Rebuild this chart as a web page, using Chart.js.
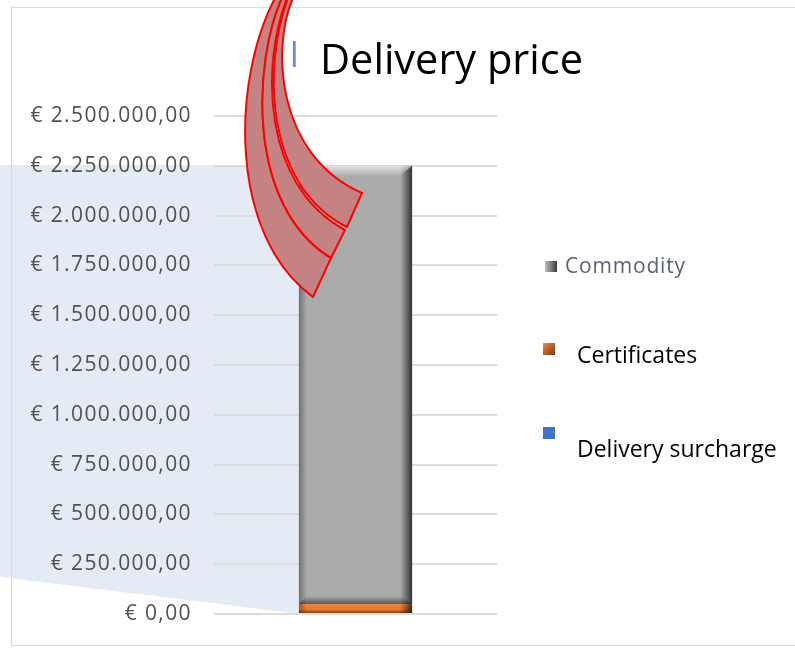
<!DOCTYPE html>
<html><head><meta charset="utf-8">
<script src="https://cdn.jsdelivr.net/npm/chart.js@4.4.1/dist/chart.umd.min.js"></script>
<style>
html,body{margin:0;padding:0;background:#fff;}
#wrap{position:relative;width:795px;height:650px;overflow:hidden;font-family:'Open Sans',sans-serif;}
#bg{position:absolute;left:0;top:0;width:795px;height:650px;background:#e5ebf5;clip-path:polygon(0 165px,300px 165px,300px 614px,0 577px);}
#frame{position:absolute;left:11px;top:7px;width:820px;height:639px;border:1.5px solid #d9d9d9;box-sizing:border-box;}
canvas{position:absolute;left:0;top:0;}
#ov{position:absolute;left:0;top:0;}
</style></head><body>
<div id="wrap">
<div id="bg"></div>
<div id="frame"></div>
<canvas id="c" width="795" height="650"></canvas>
<svg id="ov" width="795" height="650" xmlns="http://www.w3.org/2000/svg"></svg>
</div>
<script>
// ---- data ----
const chartTitle = 'Delivery price';
const categories = ['Delivery price'];
const seriesNames = ['Delivery surcharge', 'Certificates', 'Commodity'];
const deliverySurcharge = [0];
const certificates = [50000];
const commodity = [2200000];
const tickLabels = ['€ 0,00','€ 250.000,00','€ 500.000,00','€ 750.000,00','€ 1.000.000,00','€ 1.250.000,00','€ 1.500.000,00','€ 1.750.000,00','€ 2.000.000,00','€ 2.250.000,00','€ 2.500.000,00'];
const seriesColors = ['#4472c4', '#ed7d31', '#ababab'];

const spacing = {
  id: 'spacing',
  beforeDraw(chart) { chart.ctx.letterSpacing = '1.4px'; },
  beforeDatasetsDraw(chart) { chart.ctx.letterSpacing = '0px'; }
};

const bevel = {
  id: 'bevel',
  afterDatasetsDraw(chart) {
    const ctx = chart.ctx;
    chart.data.datasets.forEach((ds, di) => {
      const meta = chart.getDatasetMeta(di);
      meta.data.forEach(el => {
        const p = el.getProps(['x','y','base','width'], true);
        const h = p.base - p.y; if (h <= 0) return;
        const l = p.x - p.width/2, r = p.x + p.width/2, y = p.y, base = p.base;
        ctx.save();
        let g = ctx.createLinearGradient(l,0,l+8,0);
        g.addColorStop(0,'rgba(40,40,40,0.45)'); g.addColorStop(1,'rgba(40,40,40,0)');
        ctx.fillStyle = g; ctx.fillRect(l,y,8,h);
        g = ctx.createLinearGradient(r-12,0,r,0);
        g.addColorStop(0,'rgba(20,20,20,0)'); g.addColorStop(1,'rgba(20,20,20,0.8)');
        ctx.fillStyle = g; ctx.fillRect(r-12,y,12,h);
        if (h > 30) {
          g = ctx.createLinearGradient(0,y,0,y+10);
          g.addColorStop(0,'rgba(255,255,255,0.65)'); g.addColorStop(1,'rgba(255,255,255,0.05)');
          ctx.beginPath(); ctx.moveTo(l,y); ctx.lineTo(r,y); ctx.lineTo(r-12,y+10); ctx.lineTo(l+8,y+10); ctx.closePath();
          ctx.fillStyle = g; ctx.fill();
          g = ctx.createLinearGradient(0,base-8,0,base);
          g.addColorStop(0,'rgba(30,30,30,0)'); g.addColorStop(1,'rgba(30,30,30,0.6)');
          ctx.beginPath(); ctx.moveTo(l+8,base-8); ctx.lineTo(r-12,base-8); ctx.lineTo(r,base); ctx.lineTo(l,base); ctx.closePath();
          ctx.fillStyle = g; ctx.fill();
        } else {
          g = ctx.createLinearGradient(0,y,0,base);
          g.addColorStop(0,'rgba(255,255,255,0.1)'); g.addColorStop(0.6,'rgba(0,0,0,0)'); g.addColorStop(1,'rgba(60,20,0,0.55)');
          ctx.fillStyle = g; ctx.fillRect(l,y,p.width,h);
        }
        ctx.restore();
      });
    });
  }
};

const seriesData = [deliverySurcharge, certificates, commodity];
const chart = new Chart(document.getElementById('c'), {
  type: 'bar',
  data: {
    labels: categories,
    datasets: seriesNames.map((n, i) => ({
      label: n, data: seriesData[i], backgroundColor: seriesColors[i],
      borderWidth: 0, categoryPercentage: 1, barPercentage: 0.4
    }))
  },
  options: {
    responsive: false, animation: false, devicePixelRatio: 1,
    layout: { padding: { left: 0, right: 298, top: 116, bottom: 36 } },
    plugins: { legend: { display: false }, title: { display: false }, tooltip: { enabled: false } },
    scales: {
      x: { stacked: true, display: false },
      y: {
        stacked: true, min: 0, max: 2500000,
        ticks: { stepSize: 250000, padding: 22, color: '#505050', font: { family: 'Open Sans', size: 21 },
                 callback: (v, i) => tickLabels[i] },
        grid: { color: '#dcdcdc', lineWidth: 2, drawTicks: false },
        border: { display: false },
        afterFit: s => { s.width = 214; }
      }
    }
  },
  plugins: [spacing, bevel]
});

// ---- overlay: title, legend, decorations ----
const NS = 'http://www.w3.org/2000/svg';
const svg = document.getElementById('ov');
function el(tag, attrs, text) {
  const e = document.createElementNS(NS, tag);
  for (const k in attrs) e.setAttribute(k, attrs[k]);
  if (text !== undefined) e.textContent = text;
  svg.appendChild(e); return e;
}
const defs = el('defs', {});
defs.innerHTML = '<linearGradient id="gG" x1="0" x2="1"><stop offset="0" stop-color="#bdbdbd"/><stop offset="1" stop-color="#3c3c3c"/></linearGradient>' +
  '<linearGradient id="gO" x1="0" x2="1" y1="0" y2="1"><stop offset="0" stop-color="#f08a3c"/><stop offset="1" stop-color="#7a3a12"/></linearGradient>';

el('text', { x: 290, y: 67, 'font-family': 'Open Sans', 'font-size': 34, fill: '#6b8cc7' }, 'l');
el('text', { x: 320, y: 74, 'font-family': 'Open Sans', 'font-size': 41.5, fill: '#000' }, chartTitle);

// legend (reverse of stacking order, as in the source)
const legendStyle = [
  { mx: 543, my: 427, mw: 12, mh: 12, fill: '#4472c4', tx: 577, ty: 457, size: 23, color: '#000', ls: 0 },
  { mx: 543, my: 343, mw: 12, mh: 12, fill: 'url(#gO)', tx: 577, ty: 363, size: 23, color: '#000', ls: 0 },
  { mx: 545, my: 261, mw: 12, mh: 11, fill: 'url(#gG)', tx: 565, ty: 273, size: 21, color: '#5b6270', ls: 0.8 }
];
chart.data.datasets.forEach((ds, i) => {
  const s = legendStyle[i];
  el('rect', { x: s.mx, y: s.my, width: s.mw, height: s.mh, fill: s.fill });
  el('text', { x: s.tx, y: s.ty, 'font-family': 'Open Sans', 'font-size': s.size, fill: s.color, 'letter-spacing': s.ls }, ds.label);
});

// red curved arrow decorations
const bands = [
  'M275,-2 C232,80 228,235 313,297 L331,258 C245,205 254,60 282,-2 Z',
  'M282,-2 C254,60 245,205 331,258 L345,230 C262,185 261,65 287,-2 Z',
  'M288,-2 C263,65 264,185 347,227 L362,193 C275,155 272,45 293,-2 Z'
];
bands.forEach(d => el('path', { d, fill: '#c48282', stroke: '#ff0000', 'stroke-width': 2, 'stroke-linejoin': 'miter' }));
</script>
</body></html>
